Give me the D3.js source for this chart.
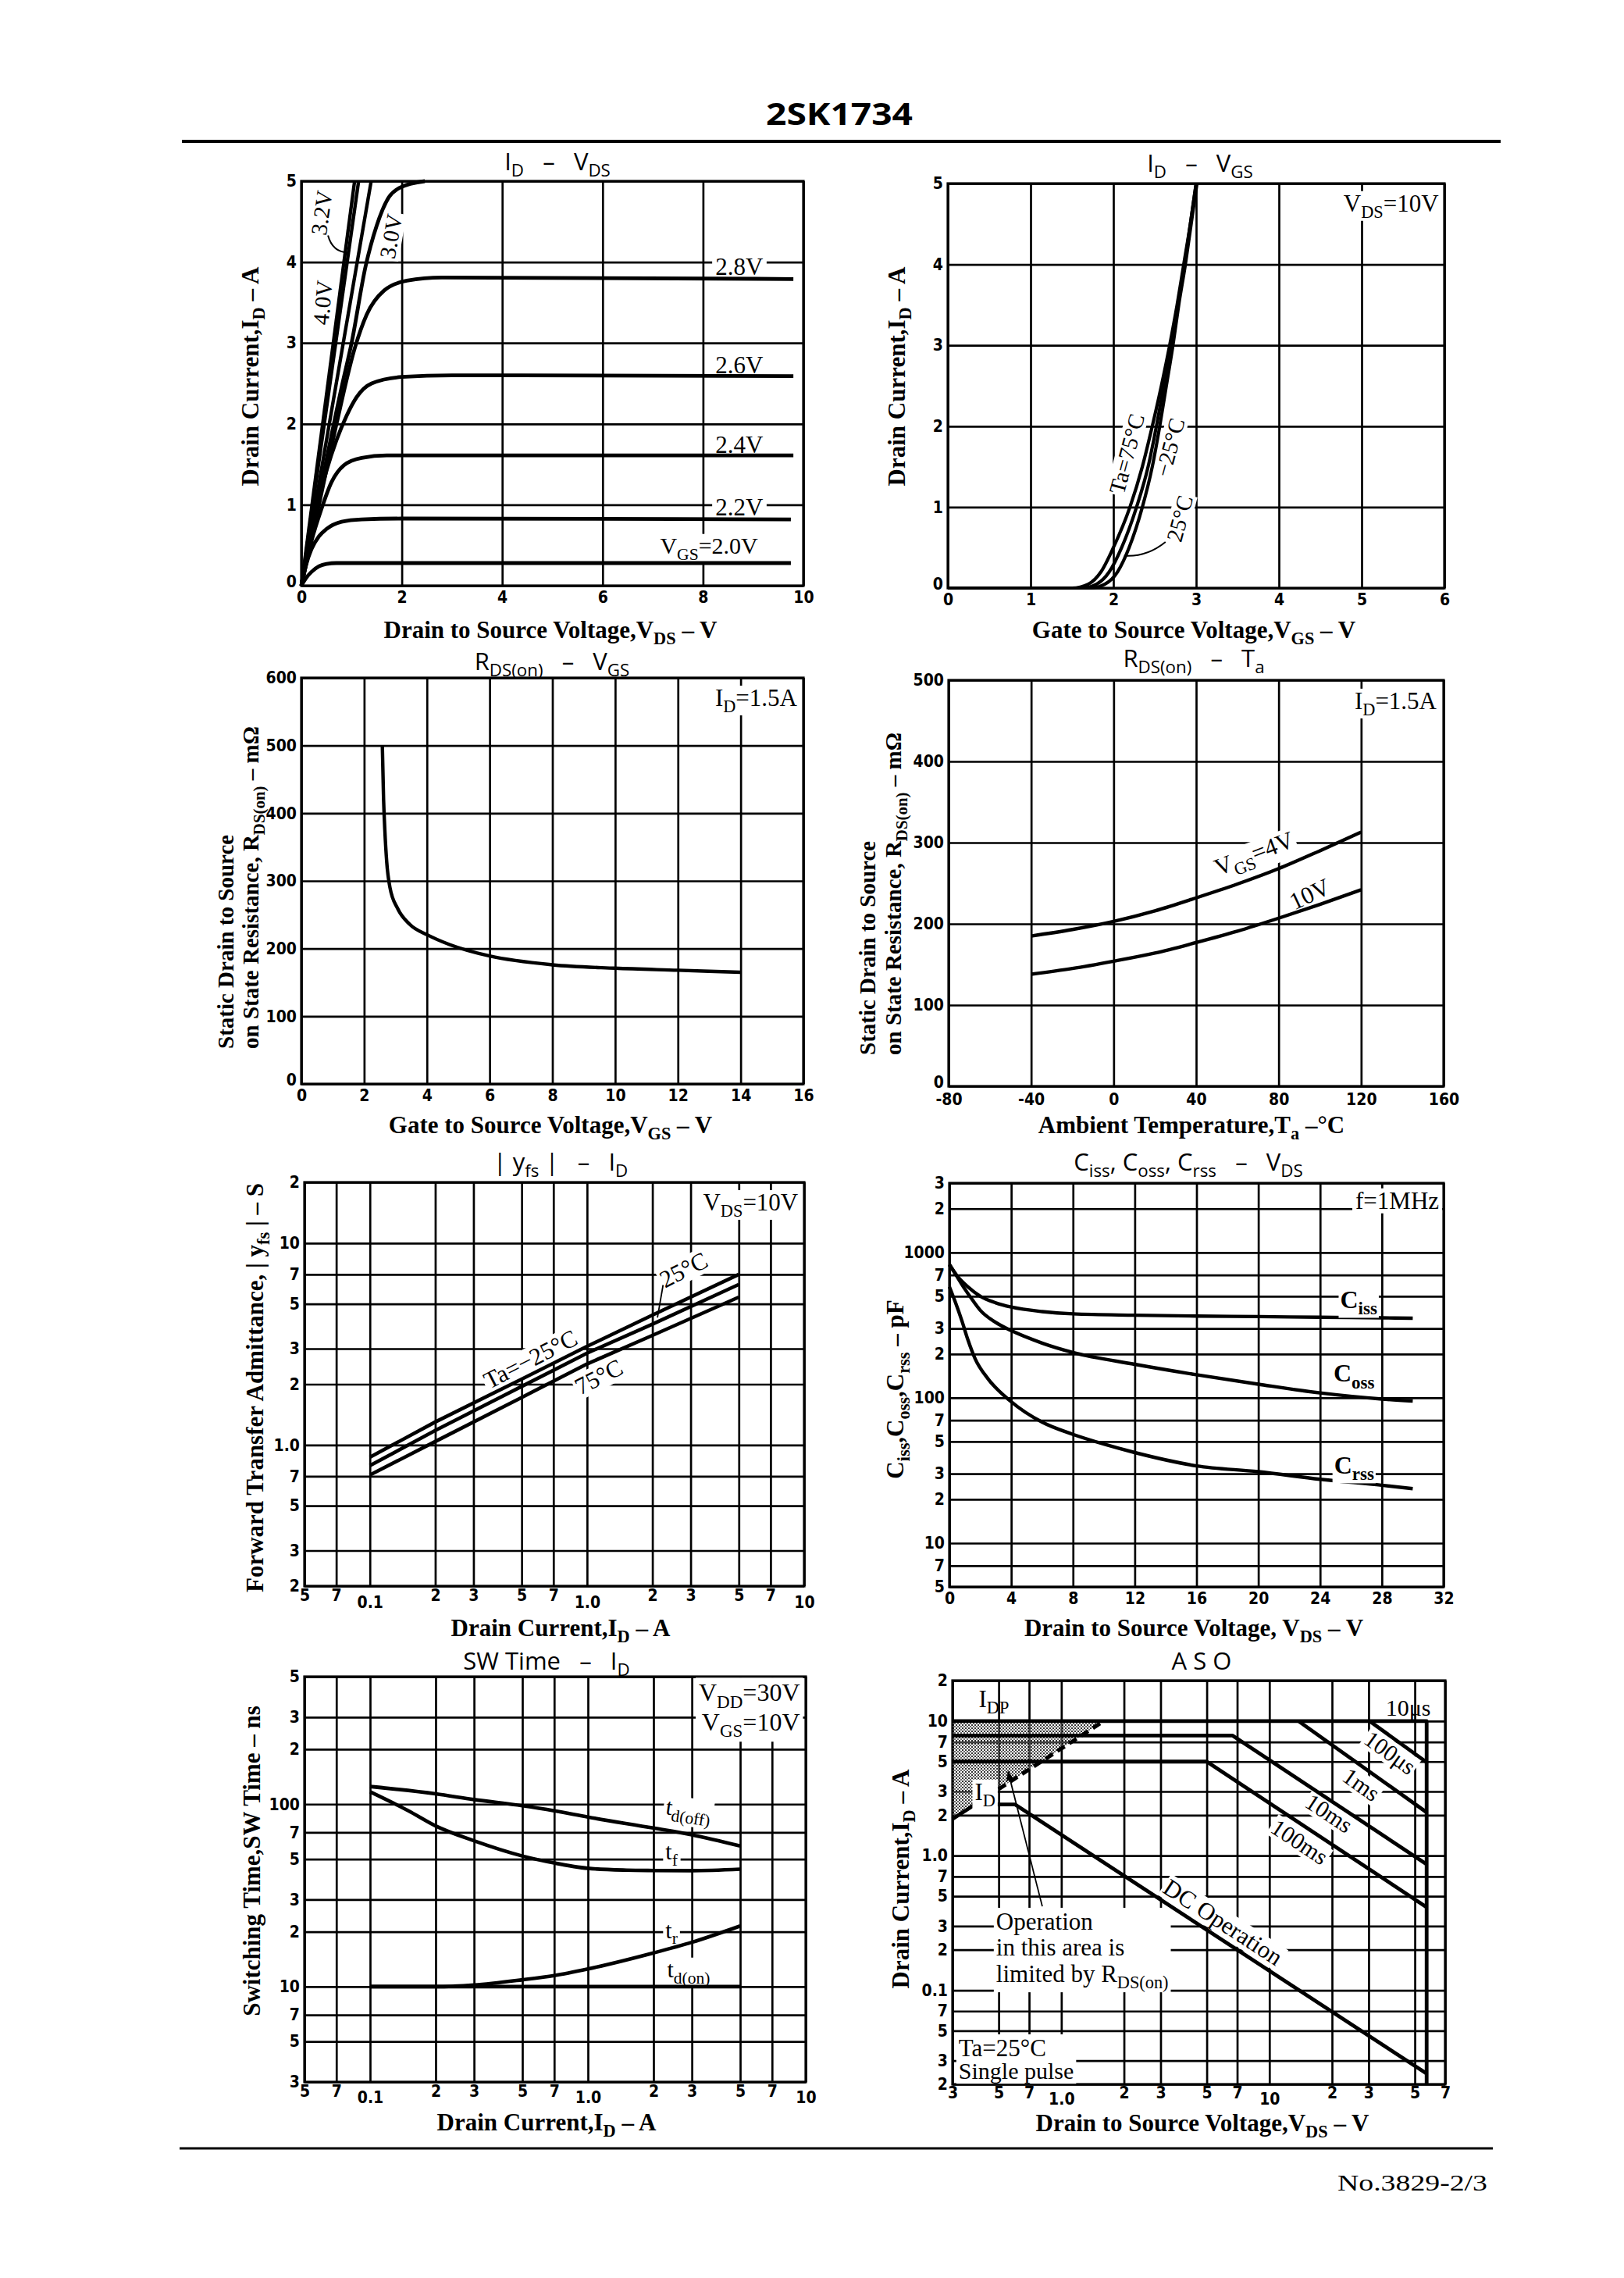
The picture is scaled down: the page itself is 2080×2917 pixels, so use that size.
<!DOCTYPE html>
<html><head><meta charset="utf-8">
<script src="https://cdn.jsdelivr.net/npm/d3@7"></script>
<style>body{margin:0;background:#fff}svg{display:block}</style>
</head><body>
<script>
// ================= DATA =================
// --- Chart 1: ID - VDS (VDS [V], ID [A]) ---
const vgs20 = [[0,0],[0.1,0.1],[0.2,0.17],[0.35,0.24],[0.5,0.27],[0.7,0.28],[9.75,0.28]];
const vgs22 = [[0,0],[0.1,0.27],[0.2,0.45],[0.35,0.61],[0.5,0.7],[0.8,0.79],[1.2,0.82],[2,0.83],[9.75,0.82]];
const vgs24 = [[0,0],[0.2,0.55],[0.4,0.95],[0.6,1.28],[0.85,1.49],[1.2,1.58],[1.7,1.61],[9.8,1.61]];
const vgs26 = [[0,0],[0.25,0.8],[0.5,1.42],[0.7,1.8],[0.9,2.1],[1.1,2.33],[1.4,2.5],[2,2.58],[3,2.6],[9.8,2.59]];
const vgs28 = [[0,0],[0.35,1.0],[0.7,2.0],[1.07,2.95],[1.3,3.35],[1.65,3.65],[2.1,3.77],[2.8,3.81],[9.8,3.79]];
const vgs30 = [[0,0],[0.4,1.25],[0.8,2.45],[1.0,3.0],[1.28,3.95],[1.5,4.45],[1.74,4.8],[1.96,4.92],[2.46,5.0]];
const vgs32 = [[0,0],[1.14,5]];
const vgsMid = [[0,0],[1.39,5]];
const vgs40 = [[0,0],[1.06,5]];
const c1Labels = [
  {t:"2.8V", x:8.72, y:3.95}, {t:"2.6V", x:8.72, y:2.73}, {t:"2.4V", x:8.72, y:1.75},
  {t:"2.2V", x:8.72, y:0.97}, {t:"V_{GS}=2.0V", x:8.12, y:0.5}];
const c1RotLabels = [{t:"3.2V", x:0.40, y:4.61, r:-82}, {t:"4.0V", x:0.42, y:3.50, r:-85}, {t:"3.0V", x:1.78, y:4.32, r:-80}];
const c1Leader = [[0.53,4.33],[0.93,4.12]];
const c1X = [0,2,4,6,8,10], c1Y = [0,1,2,3,4,5];

// --- Chart 2: ID - VGS (VGS [V], ID [A]) ---
const ta75  = [[0,0],[1.5,0],[1.7,0.05],[1.85,0.2],[2.0,0.5],[2.2,1.0],[2.35,1.5],[2.47,2.0],[2.58,2.5],[2.68,3.0],[2.77,3.5],[2.85,4.0],[2.93,4.5],[3.0,5.0]];
const ta25  = [[0,0],[1.62,0],[1.8,0.05],[1.95,0.2],[2.1,0.5],[2.28,1.0],[2.42,1.5],[2.52,2.0],[2.61,2.5],[2.7,3.0],[2.78,3.5],[2.86,4.0],[2.93,4.5],[3.0,5.0]];
const taM25 = [[0,0],[1.72,0],[1.9,0.05],[2.05,0.2],[2.19,0.5],[2.35,1.0],[2.47,1.5],[2.56,2.0],[2.64,2.5],[2.72,3.0],[2.79,3.5],[2.87,4.0],[2.94,4.5],[3.01,5.0]];
const c2X = [0,1,2,3,4,5,6], c2Y = [0,1,2,3,4,5];

// --- Chart 3: RDS(on) - VGS ---
const rdsVgs = [[2.58,500],[2.62,420],[2.66,375],[2.72,328],[2.82,291],[3.07,259],[3.45,236],[4.03,220],[4.72,206],[6,189],[8,176],[10,171],[12,168],[14,165]];
const c3X = [0,2,4,6,8,10,12,14,16], c3Y = [0,100,200,300,400,500,600];

// --- Chart 4: RDS(on) - Ta ---
const rdsTa4  = [[-40,185],[-20,193],[0,203],[20,216],[40,232],[60,249],[80,268],[100,290],[120,313]];
const rdsTa10 = [[-40,138],[-20,145],[0,154],[20,164],[40,177],[60,191],[80,207],[100,224],[120,242]];
const c4X = [-80,-40,0,40,80,120,160], c4Y = [0,100,200,300,400,500];

// --- Chart 5: |yfs| - ID ---
const yfsM25 = [[0.1,0.87],[0.2,1.3],[0.5,2.12],[1,3.08],[2,4.4],[5,7.0]];
const yfs25  = [[0.1,0.79],[0.2,1.18],[0.5,1.95],[1,2.85],[2,3.97],[5,6.24]];
const yfs75  = [[0.1,0.71],[0.2,1.04],[0.5,1.72],[1,2.52],[2,3.49],[5,5.4]];
const logIdTicks  = [0.05,0.07,0.1,0.2,0.3,0.5,0.7,1,2,3,5,7,10];
const logIdLabels = ["5","7","0.1","2","3","5","7","1.0","2","3","5","7","10"];
const c5Y = [0.2,0.3,0.5,0.7,1,2,3,5,7,10,20];
const c5YLabels = ["2","3","5","7","1.0","2","3","5","7","10","2"];

// --- Chart 6: Ciss, Coss, Crss - VDS ---
const ciss = [[0,820],[0.5,690],[1.2,580],[2,500],[3,450],[4,421],[6,392],[8,378],[12,370],[16,365],[20,362],[24,358],[28,355],[30,353]];
const coss = [[0,830],[0.5,680],[1,560],[1.5,470],[2,400],[3,330],[4,290],[6,238],[8,205],[12,170],[16,144],[20,124],[24,108],[28,98],[30,95]];
const crss = [[0,580],[0.4,450],[0.83,333],[1.2,250],[1.67,185],[2.5,135],[4,94],[6,68],[8,56],[10,48],[12,42],[16,34],[20,31],[24,27.5],[28,25],[30,23.7]];
const c6X = [0,4,8,12,16,20,24,28,32];
const c6Y = [5,7,10,20,30,50,70,100,200,300,500,700,1000,2000,3000];
const c6YLabels = ["5","7","10","2","3","5","7","100","2","3","5","7","1000","2","3"];

// --- Chart 7: SW Time - ID ---
const tdOff = [[0.1,125],[0.2,114],[0.3,106],[0.5,98],[0.7,92],[1,85],[2,74],[3,68],[5,59]];
const tFall = [[0.1,117],[0.15,92],[0.2,76],[0.3,63],[0.5,52],[0.7,47.6],[1,44.5],[1.5,43.5],[2,43.3],[3,43.2],[5,44]];
const tRise = [[0.1,10],[0.2,10],[0.3,10.2],[0.5,10.9],[0.7,11.5],[1,12.5],[2,15.3],[3,17.5],[5,21.5]];
const tdOn  = [[0.1,10],[5,10]];
const c7Y = [3,5,7,10,20,30,50,70,100,200,300,500];
const c7YLabels = ["3","5","7","10","2","3","5","7","100","2","3","5"];

// --- Chart 8: ASO ---
const asoIDP   = [[0.3,10],[57,10],[57,0.02]];
const aso100us = [[30.3,10],[57,4.94]];
const aso1ms   = [[13.8,10],[57,2.1]];
const aso10ms  = [[0.3,7.8],[6.66,7.8],[57,0.863]];
const aso100ms = [[0.3,5],[5.0,5],[57,0.414]];
const asoDC    = [[0.3,1.875],[0.384,2.4],[0.6,2.4],[57,0.024]];
const asoRds   = [[0.384,2.4],[1.6,10]];
const asoShade = [[0.3,10],[1.6,10],[0.3,1.875]];
const asoLeader = [[0.81,0.42],[0.555,4.2]];
const c8X = [0.3,0.5,0.7,1,2,3,5,7,10,20,30,50,70];
const c8XLabels = ["3","5","7","1.0","2","3","5","7","10","2","3","5","7"];
const c8Y = [0.02,0.03,0.05,0.07,0.1,0.2,0.3,0.5,0.7,1,2,3,5,7,10,20];
const c8YLabels = ["2","3","5","7","0.1","2","3","5","7","1.0","2","3","5","7","10","2"];

// ================= DRAWING =================
const W = 2080, H = 2917;
const SERIF = "'Liberation Serif','DejaVu Serif',serif";
const SANS  = "'Open Sans','Noto Sans','DejaVu Sans',sans-serif";
const TICKF = "'Liberation Sans Narrow','DejaVu Sans Condensed','Roboto','Liberation Sans',sans-serif";
const GRID_W = 2.7, FRAME_W = 3.2, CURVE_W = 4.8, TICK_FS = 21, ANN = 31;

const svg = d3.select("body").append("svg").attr("width", W).attr("height", H);
svg.append("rect").attr("width", W).attr("height", H).attr("fill", "#fff");
const defs = svg.append("defs");
const pat = defs.append("pattern").attr("id","dots").attr("width",4).attr("height",4).attr("patternUnits","userSpaceOnUse");
pat.append("rect").attr("width",4).attr("height",4).attr("fill","#fff").attr("opacity",0.35);
pat.append("rect").attr("width",2).attr("height",2).attr("fill","#000");
pat.append("rect").attr("x",2).attr("y",2).attr("width",2).attr("height",2).attr("fill","#444");
defs.append("marker").attr("id","arr").attr("viewBox","0 0 10 10").attr("refX",9).attr("refY",5)
  .attr("markerWidth",7).attr("markerHeight",7).attr("orient","auto")
  .append("path").attr("d","M0,1 L10,5 L0,9 z").attr("fill","#000");

function rich(sel, str, fs) {
  const re = /_\{([^}]*)\}/g; let last = 0, m, sub = false;
  const add = (t, s) => {
    if (!t) return;
    const ts = sel.append("tspan").text(t);
    if (s) { ts.attr("font-size", fs * 0.72); if (!sub) ts.attr("dy", fs * 0.26); sub = true; }
    else { if (sub) ts.attr("dy", -fs * 0.26); sub = false; }
  };
  while ((m = re.exec(str)) !== null) { add(str.slice(last, m.index), false); add(m[1], true); last = re.lastIndex; }
  add(str.slice(last), false);
}
function txt(g, cx, cy, str, o = {}) {
  const fs = o.size || ANN;
  const t = g.append("text").attr("x", cx).attr("y", cy + fs * 0.35)
    .attr("font-family", o.family || SERIF).attr("font-size", fs)
    .attr("font-weight", o.weight || "normal").attr("text-anchor", o.anchor || "middle").attr("fill", "#000");
  rich(t, str, fs);
  const tr = o.rotate ? `rotate(${o.rotate},${cx},${cy})` : null;
  if (tr) t.attr("transform", tr);
  if (o.bg) {
    const b = t.node().getBBox(), p = o.pad ?? 4;
    g.insert("rect", () => t.node()).attr("x", b.x - p).attr("y", b.y + 2).attr("width", b.width + 2 * p)
      .attr("height", b.height - 3).attr("fill", "#fff").attr("transform", tr);
  }
  return t;
}
function boxBehind(g, nodes, pad) {
  const bs = nodes.map(n => n.node().getBBox());
  const x0 = d3.min(bs, b => b.x) - pad, y0 = d3.min(bs, b => b.y) - pad + 3;
  const x1 = d3.max(bs, b => b.x + b.width) + pad, y1 = d3.max(bs, b => b.y + b.height) + pad - 3;
  g.insert("rect", () => nodes[0].node()).attr("x", x0).attr("y", y0).attr("width", x1 - x0).attr("height", y1 - y0).attr("fill", "#fff");
}

function panel(c) {
  const g = svg.append("g");
  const x = c.x.copy().range([c.L, c.R]);
  const y = c.y.copy().range([c.B, c.T]);
  const gx = g.append("g").attr("transform", `translate(0,${c.B})`)
    .call(d3.axisBottom(x).tickValues(c.xTicks).tickSize(-(c.B - c.T)).tickFormat(""));
  const gy = g.append("g").attr("transform", `translate(${c.L},0)`)
    .call(d3.axisLeft(y).tickValues(c.yTicks).tickSize(-(c.R - c.L)).tickFormat(""));
  [gx, gy].forEach(a => { a.select(".domain").remove(); a.selectAll("line").attr("stroke", "#000").attr("stroke-width", GRID_W); });
  g.append("rect").attr("x", c.L).attr("y", c.T).attr("width", c.R - c.L).attr("height", c.B - c.T)
    .attr("fill", "none").attr("stroke", "#000").attr("stroke-width", FRAME_W);
  const xl = c.xLabels || c.xTicks.map(String), yl = c.yLabels || c.yTicks.map(String);
  const lx = g.append("g").attr("transform", `translate(0,${c.B})`)
    .call(d3.axisBottom(x).tickValues(c.xTicks).tickSize(0).tickFormat((d, i) => xl[i]));
  lx.select(".domain").remove();
  lx.selectAll("text").attr("font-family", TICKF).attr("font-size", TICK_FS).attr("font-weight", "bold").attr("fill", "#000")
    .attr("y", (d, i) => (c.xDrop && /[.]|10/.test(xl[i])) ? (c.drop || 13) : (c.xPad || 7)).attr("dy", "0.71em");
  const ly = g.append("g").attr("transform", `translate(${c.L},0)`)
    .call(d3.axisLeft(y).tickValues(c.yTicks).tickSize(0).tickPadding(6).tickFormat((d, i) => yl[i]));
  ly.select(".domain").remove();
  ly.selectAll("text").attr("font-family", TICKF).attr("font-size", TICK_FS).attr("font-weight", "bold").attr("fill", "#000")
    .attr("y", (d, i) => (c.liftZero && i === 0) ? -5 : 0);
  const lab = g.append("g");
  const plot = g.append("g");
  const line = (data, o = {}) => plot.append("path").datum(data)
    .attr("d", d3.line().x(d => x(d[0])).y(d => y(d[1])).curve(o.curve || d3.curveMonotoneX))
    .attr("fill", "none").attr("stroke", "#000").attr("stroke-width", o.w || CURVE_W)
    .attr("stroke-linejoin", "round").attr("stroke-linecap", "butt").attr("stroke-dasharray", o.dash || null)
    .attr("marker-end", o.marker || null);
  return { g: plot, lab, x, y, line };
}
const title = (cx, cy, s) => txt(svg, cx, cy, s, { family: SANS, size: 31 });
const axTitle = (cx, cy, s, o = {}) => txt(svg, cx, cy, s, Object.assign({ weight: "bold", size: 31 }, o));
const NB = "\u00A0\u00A0\u00A0";

// Header / footer
svg.append("text").attr("x", 1075).attr("y", 160).attr("text-anchor", "middle").attr("font-family", SANS)
  .attr("font-weight", "bold").attr("font-size", 40).attr("textLength", 188).attr("lengthAdjust", "spacingAndGlyphs").text("2SK1734");
svg.append("line").attr("x1", 233).attr("x2", 1922).attr("y1", 181).attr("y2", 181).attr("stroke", "#000").attr("stroke-width", 4);
svg.append("line").attr("x1", 230).attr("x2", 1912).attr("y1", 2751).attr("y2", 2751).attr("stroke", "#000").attr("stroke-width", 3);
svg.append("text").attr("x", 1905).attr("y", 2805).attr("text-anchor", "end").attr("font-family", SERIF)
  .attr("font-size", 30).attr("textLength", 192).attr("lengthAdjust", "spacingAndGlyphs").text("No.3829-2/3");

// ---- Chart 1 ----
{
  const p = panel({ L: 386, R: 1029, T: 232, B: 750, x: d3.scaleLinear().domain([0, 10]), y: d3.scaleLinear().domain([0, 5]), xTicks: c1X, yTicks: c1Y, liftZero: true });
  [vgs20, vgs22, vgs24, vgs26, vgs28, vgs30].forEach(d => p.line(d));
  [vgs32, vgsMid, vgs40].forEach(d => p.line(d, { curve: d3.curveLinear, w: 4.4 }));
  c1Labels.forEach(l => txt(p.lab, p.x(l.x), p.y(l.y), l.t, { bg: true, size: l.t.length > 5 ? 30 : 31 }));
  c1RotLabels.forEach(l => txt(p.lab, p.x(l.x), p.y(l.y), l.t, { size: 29, rotate: l.r, bg: l.t !== "3.2V", pad: 2 }));
  const [a, b] = c1Leader;
  p.g.append("path").attr("d", `M${p.x(a[0])},${p.y(a[1])} Q${p.x(a[0]) + 6},${p.y(b[1])} ${p.x(b[0])},${p.y(b[1])}`)
    .attr("fill", "none").attr("stroke", "#000").attr("stroke-width", 2);
  title(714, 207, "I_{D}" + NB + "–" + NB + "V_{DS}");
  axTitle(320, 482, "Drain Current,I_{D} – A", { rotate: -90 });
  axTitle(705, 806, "Drain to Source Voltage,V_{DS} – V");
}
// ---- Chart 2 ----
{
  const p = panel({ L: 1214, R: 1850, T: 235, B: 753, x: d3.scaleLinear().domain([0, 6]), y: d3.scaleLinear().domain([0, 5]), xTicks: c2X, yTicks: c2Y, liftZero: true });
  [ta75, ta25, taM25].forEach(d => p.line(d, { w: 4.2 }));
  txt(p.lab, p.x(5.93), p.y(4.76), "V_{DS}=10V", { anchor: "end", bg: true });
  txt(p.lab, p.x(2.16), p.y(1.66), "Ta=75°C", { size: 29, rotate: -75, bg: true, pad: 2 });
  txt(p.lab, p.x(2.68), p.y(1.74), "−25°C", { size: 29, rotate: -75, bg: true, pad: 2 });
  txt(p.lab, p.x(2.8), p.y(0.86), "25°C", { size: 29, rotate: -75, bg: true, pad: 2 });
  p.g.append("path").attr("d", `M${p.x(2.63)},${p.y(0.57)} Q${p.x(2.4)},${p.y(0.38)} ${p.x(2.13)},${p.y(0.40)}`)
    .attr("fill", "none").attr("stroke", "#000").attr("stroke-width", 2);
  title(1537, 209, "I_{D}" + NB + "–" + NB + "V_{GS}");
  axTitle(1148, 482, "Drain Current,I_{D} – A", { rotate: -90 });
  axTitle(1529, 806, "Gate to Source Voltage,V_{GS} – V");
}
// ---- Chart 3 ----
{
  const p = panel({ L: 386, R: 1029, T: 868, B: 1388, x: d3.scaleLinear().domain([0, 16]), y: d3.scaleLinear().domain([0, 600]), xTicks: c3X, yTicks: c3Y, liftZero: true });
  p.line(rdsVgs, { w: 4.4 });
  txt(p.lab, p.x(15.8), p.y(571), "I_{D}=1.5A", { anchor: "end", bg: true });
  title(707, 847, "R_{DS(on)}" + NB + "–" + NB + "V_{GS}");
  axTitle(289, 1343, "Static Drain to Source", { rotate: -90, anchor: "start", size: 29 });
  axTitle(321, 1343, "on State Resistance, R_{DS(on)} – mΩ", { rotate: -90, anchor: "start", size: 29 });
  axTitle(705, 1440, "Gate to Source Voltage,V_{GS} – V");
}
// ---- Chart 4 ----
{
  const p = panel({ L: 1215, R: 1849, T: 871, B: 1391, x: d3.scaleLinear().domain([-80, 160]), y: d3.scaleLinear().domain([0, 500]), xTicks: c4X, yTicks: c4Y, liftZero: true, xPad: 9 });
  p.line(rdsTa4, { w: 4.4 }); p.line(rdsTa10, { w: 4.4 });
  txt(p.lab, p.x(156.6), p.y(475), "I_{D}=1.5A", { anchor: "end", bg: true });
  txt(p.lab, p.x(68), p.y(287), "V_{GS}=4V", { rotate: -21, bg: true, pad: 2 });
  txt(p.lab, p.x(95), p.y(237), "10V", { rotate: -25, bg: true, pad: 2 });
  title(1529, 843, "R_{DS(on)}" + NB + "–" + NB + "T_{a}");
  axTitle(1111, 1351, "Static Drain to Source", { rotate: -90, anchor: "start", size: 29 });
  axTitle(1144, 1351, "on State Resistance, R_{DS(on)} – mΩ", { rotate: -90, anchor: "start", size: 29 });
  axTitle(1526, 1440, "Ambient Temperature,T_{a} –°C");
}
// ---- Chart 5 ----
{
  const p = panel({ L: 390, R: 1030, T: 1514, B: 2031, x: d3.scaleLog().domain([0.05, 10]), y: d3.scaleLog().domain([0.2, 20]),
    xTicks: logIdTicks, xLabels: logIdLabels, yTicks: c5Y, yLabels: c5YLabels, xDrop: true, xPad: 4 });
  [yfsM25, yfs25, yfs75].forEach(d => p.line(d, { curve: d3.curveLinear, w: 4.6 }));
  txt(p.lab, p.x(9.38), p.y(16.0), "V_{DS}=10V", { anchor: "end", bg: true });
  txt(p.lab, p.x(0.548), p.y(2.67), "Ta=−25°C", { rotate: -27, bg: true, pad: 2 });
  txt(p.lab, p.x(2.78), p.y(7.4), "25°C", { rotate: -27, bg: true, pad: 2 });
  txt(p.lab, p.x(1.13), p.y(2.18), "75°C", { rotate: -27, bg: true, pad: 2 });
  p.g.append("line").attr("x1", p.x(2.24)).attr("y1", p.y(6.2)).attr("x2", p.x(2.11)).attr("y2", p.y(4.28))
    .attr("stroke", "#000").attr("stroke-width", 1.8);
  title(718, 1488, "|\u00A0y_{fs}\u00A0|" + NB + "–" + NB + "I_{D}");
  axTitle(326, 1777, "Forward Transfer Admittance, | y_{fs} | – S", { rotate: -90 });
  axTitle(718, 2084, "Drain Current,I_{D} – A");
}
// ---- Chart 6 ----
{
  const p = panel({ L: 1216, R: 1849, T: 1515, B: 2032, x: d3.scaleLinear().domain([0, 32]), y: d3.scaleLog().domain([5, 3000]),
    xTicks: c6X, yTicks: c6Y, yLabels: c6YLabels });
  [ciss, coss, crss].forEach(d => p.line(d, { w: 4.4 }));
  txt(p.lab, p.x(31.7), p.y(2290), "f=1MHz", { anchor: "end", bg: true });
  txt(p.g, p.x(26.5), p.y(475), "C_{iss}", { size: 32, bg: true, weight: "bold", pad: 2 });
  txt(p.g, p.x(26.2), p.y(148), "C_{oss}", { size: 32, bg: true, weight: "bold", pad: 2 });
  txt(p.g, p.x(26.2), p.y(34.5), "C_{rss}", { size: 32, bg: true, weight: "bold", pad: 2 });
  title(1522, 1488, "C_{iss}, C_{oss}, C_{rss}" + NB + "–" + NB + "V_{DS}");
  axTitle(1146, 1779, "C_{iss},C_{oss},C_{rss} – pF", { rotate: -90 });
  axTitle(1529, 2084, "Drain to Source Voltage, V_{DS} – V");
}
// ---- Chart 7 ----
{
  const p = panel({ L: 390, R: 1032, T: 2147, B: 2666, x: d3.scaleLog().domain([0.05, 10]), y: d3.scaleLog().domain([3, 500]),
    xTicks: logIdTicks, xLabels: logIdLabels, yTicks: c7Y, yLabels: c7YLabels, xDrop: true, xPad: 4, drop: 12 });
  [tdOff, tFall, tRise].forEach(d => p.line(d, { w: 4.6 }));
  p.line(tdOn, { curve: d3.curveLinear, w: 4.6 });
  boxBehind(p.lab, [txt(p.lab, p.x(9.4), p.y(410), "V_{DD}=30V", { size: 32, anchor: "end" }),
                    txt(p.lab, p.x(9.4), p.y(283), "V_{GS}=10V", { size: 32, anchor: "end" })], 4);
  txt(p.lab, p.x(2.9), p.y(94), "t_{d(off)}", { size: 30, rotate: 8, bg: true, pad: 3 });
  txt(p.lab, p.x(2.42), p.y(55), "t_{f}", { size: 30, bg: true, pad: 3 });
  txt(p.lab, p.x(2.42), p.y(20.5), "t_{r}", { size: 30, bg: true, pad: 3 });
  txt(p.lab, p.x(2.9), p.y(12.5), "t_{d(on)}", { size: 30, bg: true, pad: 3 });
  title(700, 2127, "SW Time" + NB + "–" + NB + "I_{D}");
  axTitle(322, 2383, "Switching Time,SW Time – ns", { rotate: -90 });
  axTitle(700, 2717, "Drain Current,I_{D} – A");
}
// ---- Chart 8 ----
{
  const p = panel({ L: 1220, R: 1851, T: 2152, B: 2669, x: d3.scaleLog().domain([0.3, 70]), y: d3.scaleLog().domain([0.02, 20]),
    xTicks: c8X, xLabels: c8XLabels, yTicks: c8Y, yLabels: c8YLabels, xDrop: true, xPad: 3, drop: 11 });
  const L = d3.line().x(d => p.x(d[0])).y(d => p.y(d[1]));
  p.lab.append("path").attr("d", L(asoShade) + "Z").attr("fill", "url(#dots)").attr("opacity", 0.8);
  [asoIDP, aso100us, aso1ms, aso10ms, aso100ms, asoDC].forEach(d => p.line(d, { curve: d3.curveLinear, w: 4.8 }));
  p.line(asoRds, { curve: d3.curveLinear, w: 5, dash: "11,7" });
  p.line(asoLeader, { curve: d3.curveLinear, w: 1.8, marker: "url(#arr)" });
  const ang = (a, b) => Math.atan2(p.y(b[1]) - p.y(a[1]), p.x(b[0]) - p.x(a[0])) * 180 / Math.PI;
  txt(p.lab, p.x(0.474), p.y(14.6), "I_{DP}", { size: 31 });
  txt(p.g, p.x(0.43), p.y(3.0), "I_{D}", { size: 31, bg: true, pad: 3 });
  txt(p.lab, p.x(46.5), p.y(12.6), "10μs", { size: 30 });
  txt(p.lab, p.x(38.1), p.y(5.85), "100μs", { size: 30, rotate: ang(aso100us[0], aso100us[1]), bg: true, pad: 2 });
  txt(p.lab, p.x(27.7), p.y(3.38), "1ms", { size: 30, rotate: ang(aso1ms[0], aso1ms[1]), bg: true, pad: 2 });
  txt(p.lab, p.x(19.4), p.y(2.07), "10ms", { size: 30, rotate: ang(aso10ms[1], aso10ms[2]), bg: true, pad: 2 });
  txt(p.lab, p.x(14.0), p.y(1.27), "100ms", { size: 30, rotate: ang(aso100ms[1], aso100ms[2]), bg: true, pad: 2 });
  txt(p.lab, p.x(6.0), p.y(0.322), "DC Operation", { size: 31, rotate: ang(asoDC[2], asoDC[3]), bg: true, pad: 2 });
  // boxed notes
  const ox = p.x(0.486);
  const opLines = [["Operation", 0.326], ["in this area is", 0.21], ["limited by R_{DS(on)}", 0.133]];
  boxBehind(p.lab, opLines.map(([s, v]) => txt(p.lab, ox, p.y(v), s, { size: 31, anchor: "start" })), 3);
  const tx = p.x(0.321);
  boxBehind(p.lab, [txt(p.lab, tx, p.y(0.0374), "Ta=25°C", { size: 31, anchor: "start" }),
                    txt(p.lab, tx, p.y(0.0252), "Single pulse", { size: 30, anchor: "start" })], 3);
  title(1539, 2127, "A S O");
  axTitle(1153, 2406, "Drain Current,I_{D} – A", { rotate: -90 });
  axTitle(1540, 2718, "Drain to Source Voltage,V_{DS} – V");
}
</script>
</body></html>
